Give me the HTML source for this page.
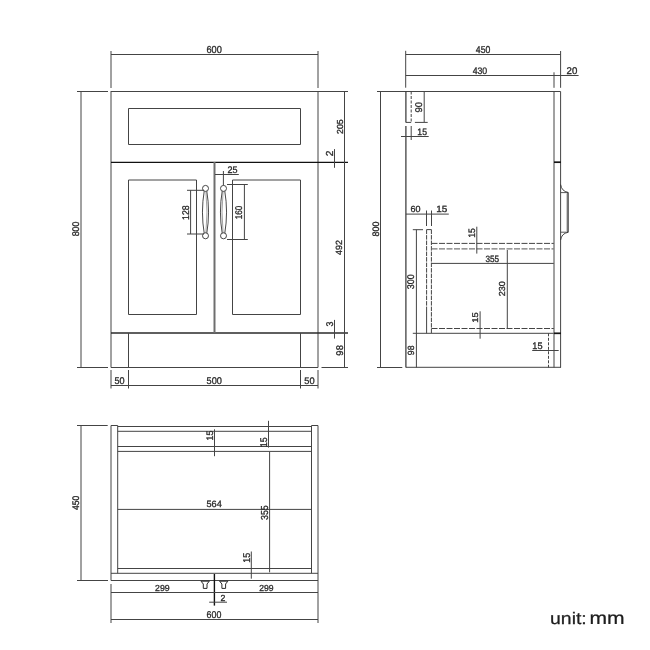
<!DOCTYPE html>
<html><head><meta charset="utf-8"><style>
html,body{margin:0;padding:0;background:#fff;}
body{width:650px;height:650px;overflow:hidden;position:relative;}
svg{position:absolute;left:0;top:0;will-change:transform;text-rendering:geometricPrecision;font-family:"Liberation Sans",sans-serif;}
</style></head><body>
<svg width="650" height="650" viewBox="0 0 650 650">
<line x1="111" y1="51" x2="111" y2="88" stroke="#444" stroke-width="1"/>
<line x1="318" y1="51" x2="318" y2="88" stroke="#444" stroke-width="1"/>
<line x1="111" y1="54.5" x2="318" y2="54.5" stroke="#444" stroke-width="1"/>
<line x1="77" y1="91.5" x2="108" y2="91.5" stroke="#444" stroke-width="1"/>
<line x1="77" y1="367.5" x2="108" y2="367.5" stroke="#444" stroke-width="1"/>
<line x1="81" y1="92" x2="81" y2="367" stroke="#444" stroke-width="1"/>
<line x1="111" y1="91.5" x2="348" y2="91.5" stroke="#444" stroke-width="1"/>
<line x1="111" y1="91" x2="111" y2="367.5" stroke="#444" stroke-width="1"/>
<line x1="318" y1="91" x2="318" y2="367.5" stroke="#444" stroke-width="1"/>
<line x1="111" y1="367.5" x2="318" y2="367.5" stroke="#444" stroke-width="1"/>
<line x1="321.5" y1="367.5" x2="348" y2="367.5" stroke="#444" stroke-width="1"/>
<path d="M128.5,108.5 H300.5 V144.5 H128.5 Z" fill="none" stroke="#444" stroke-width="1"/>
<line x1="111" y1="162.4" x2="348" y2="162.4" stroke="#111" stroke-width="1.4"/>
<line x1="111" y1="333" x2="348" y2="333" stroke="#2a2a2a" stroke-width="1.7"/>
<line x1="214.5" y1="162" x2="214.5" y2="333" stroke="#6e6e6e" stroke-width="2"/>
<path d="M128.5,314.5 V180 H196.5 V314.5 Z" fill="none" stroke="#444" stroke-width="1"/>
<path d="M232.5,314.5 V180 H300.5 V314.5 Z" fill="none" stroke="#444" stroke-width="1"/>
<line x1="128.5" y1="333" x2="128.5" y2="367.5" stroke="#444" stroke-width="1"/>
<line x1="300.5" y1="333" x2="300.5" y2="367.5" stroke="#444" stroke-width="1"/>
<line x1="344.5" y1="91.5" x2="344.5" y2="367.5" stroke="#444" stroke-width="1"/>
<line x1="334.5" y1="149.1" x2="334.5" y2="167.8" stroke="#444" stroke-width="1"/>
<line x1="334.5" y1="319.9" x2="334.5" y2="338.6" stroke="#444" stroke-width="1"/>
<line x1="111" y1="370" x2="111" y2="388.5" stroke="#444" stroke-width="1"/>
<line x1="128.5" y1="370" x2="128.5" y2="388.5" stroke="#444" stroke-width="1"/>
<line x1="300.5" y1="370" x2="300.5" y2="388.5" stroke="#444" stroke-width="1"/>
<line x1="318" y1="370" x2="318" y2="388.5" stroke="#444" stroke-width="1"/>
<line x1="111" y1="385.5" x2="318" y2="385.5" stroke="#444" stroke-width="1"/>
<path d="M204.3,190.5 Q200.6,212 204.3,234 M206.7,190.5 Q210.4,212 206.7,234" fill="none" stroke="#333" stroke-width="0.9"/>
<path d="M205.9,191 Q208.1,212 205.9,233" fill="none" stroke="#666" stroke-width="0.6"/>
<circle cx="205.5" cy="188.4" r="3" fill="#fff" stroke="#333" stroke-width="0.9"/>
<circle cx="205.5" cy="235.8" r="3" fill="#fff" stroke="#333" stroke-width="0.9"/>
<path d="M222.3,190.5 Q218.6,212 222.3,234 M224.7,190.5 Q228.4,212 224.7,234" fill="none" stroke="#333" stroke-width="0.9"/>
<path d="M223.1,191 Q220.9,212 223.1,233" fill="none" stroke="#666" stroke-width="0.6"/>
<circle cx="223.5" cy="188.4" r="3" fill="#fff" stroke="#333" stroke-width="0.9"/>
<circle cx="223.5" cy="235.8" r="3" fill="#fff" stroke="#333" stroke-width="0.9"/>
<line x1="187" y1="190.3" x2="204" y2="190.3" stroke="#444" stroke-width="1"/>
<line x1="187" y1="234" x2="204" y2="234" stroke="#444" stroke-width="1"/>
<line x1="190.6" y1="190.3" x2="190.6" y2="234" stroke="#444" stroke-width="1"/>
<line x1="223.4" y1="171" x2="223.4" y2="185.5" stroke="#444" stroke-width="1"/>
<line x1="215" y1="174.5" x2="238.8" y2="174.5" stroke="#444" stroke-width="1"/>
<line x1="227" y1="184.5" x2="247.8" y2="184.5" stroke="#444" stroke-width="1"/>
<line x1="227" y1="239.5" x2="247.8" y2="239.5" stroke="#444" stroke-width="1"/>
<line x1="244.4" y1="184.5" x2="244.4" y2="239.5" stroke="#444" stroke-width="1"/>
<line x1="405.7" y1="50.8" x2="405.7" y2="87.7" stroke="#444" stroke-width="1"/>
<line x1="560.6" y1="51" x2="560.6" y2="87.8" stroke="#444" stroke-width="1"/>
<line x1="405.7" y1="54.5" x2="560.6" y2="54.5" stroke="#444" stroke-width="1"/>
<line x1="405.7" y1="75.5" x2="578.6" y2="75.5" stroke="#444" stroke-width="1"/>
<line x1="554" y1="72.3" x2="554" y2="87.8" stroke="#444" stroke-width="1"/>
<line x1="377" y1="91.5" x2="560.6" y2="91.5" stroke="#444" stroke-width="1"/>
<line x1="380.5" y1="91.5" x2="380.5" y2="367.5" stroke="#444" stroke-width="1"/>
<line x1="377" y1="367.5" x2="402.3" y2="367.5" stroke="#444" stroke-width="1"/>
<line x1="405.9" y1="91.5" x2="405.9" y2="122.4" stroke="#333" stroke-width="1.2"/>
<line x1="405.9" y1="126" x2="405.9" y2="367.5" stroke="#333" stroke-width="1.2"/>
<line x1="411.2" y1="91.5" x2="411.2" y2="122.4" stroke="#444" stroke-width="1" stroke-dasharray="3 1.5"/>
<line x1="405.9" y1="122.4" x2="411.2" y2="122.4" stroke="#444" stroke-width="1"/>
<line x1="411.2" y1="126" x2="411.2" y2="140" stroke="#444" stroke-width="1"/>
<line x1="424.2" y1="92" x2="424.2" y2="122" stroke="#444" stroke-width="1"/>
<line x1="414.9" y1="122.4" x2="427.7" y2="122.4" stroke="#444" stroke-width="1"/>
<line x1="401" y1="136.5" x2="428.7" y2="136.5" stroke="#444" stroke-width="1"/>
<line x1="554" y1="91.5" x2="554" y2="367.5" stroke="#444" stroke-width="1"/>
<line x1="560.6" y1="91.5" x2="560.6" y2="367.5" stroke="#444" stroke-width="1"/>
<line x1="554" y1="162.2" x2="561" y2="162.2" stroke="#151515" stroke-width="1.7"/>
<path d="M560.6,184.5 Q561.6,191.2 568,192.4 M560.6,240 Q561.6,233.5 568,232.3" fill="none" stroke="#333" stroke-width="0.9"/>
<path d="M560.6,192.6 H568 M560.6,232.2 H568" fill="none" stroke="#444" stroke-width="0.9"/>
<path d="M568,192.2 V232.5" fill="none" stroke="#333" stroke-width="1.4"/>
<path d="M566.7,193.5 V231.2" fill="none" stroke="#999" stroke-width="0.6"/>
<line x1="405.9" y1="214.1" x2="448.8" y2="214.1" stroke="#444" stroke-width="1"/>
<line x1="426.5" y1="210.5" x2="426.5" y2="226" stroke="#444" stroke-width="1"/>
<line x1="431.5" y1="210.5" x2="431.5" y2="226" stroke="#444" stroke-width="1"/>
<line x1="412.8" y1="229.7" x2="423" y2="229.7" stroke="#444" stroke-width="1"/>
<line x1="416.4" y1="229.7" x2="416.4" y2="367.5" stroke="#444" stroke-width="1"/>
<line x1="426.6" y1="229.6" x2="431.4" y2="229.6" stroke="#444" stroke-width="1"/>
<line x1="426.6" y1="229.6" x2="426.6" y2="309" stroke="#444" stroke-width="1" stroke-dasharray="4.5 1"/>
<line x1="426.6" y1="309" x2="426.6" y2="333.3" stroke="#444" stroke-width="1"/>
<line x1="431.4" y1="229.6" x2="431.4" y2="333.3" stroke="#444" stroke-width="1" stroke-dasharray="4.5 1"/>
<line x1="431.5" y1="243.4" x2="553.8" y2="243.4" stroke="#444" stroke-width="1" stroke-dasharray="6 1.5"/>
<line x1="431.5" y1="248.9" x2="553.8" y2="248.9" stroke="#777" stroke-width="1.2" stroke-dasharray="6 1.5"/>
<line x1="431.5" y1="263.4" x2="553.8" y2="263.4" stroke="#444" stroke-width="1"/>
<line x1="476.8" y1="226.7" x2="476.8" y2="253.6" stroke="#444" stroke-width="1"/>
<line x1="507.3" y1="250" x2="507.3" y2="328.4" stroke="#444" stroke-width="1"/>
<line x1="412.8" y1="333.3" x2="553.8" y2="333.3" stroke="#444" stroke-width="1"/>
<line x1="431.5" y1="328.5" x2="553.8" y2="328.5" stroke="#444" stroke-width="1" stroke-dasharray="6 1.5"/>
<line x1="480.1" y1="311.3" x2="480.1" y2="338.7" stroke="#444" stroke-width="1"/>
<line x1="554" y1="333.3" x2="561" y2="333.3" stroke="#151515" stroke-width="1.7"/>
<line x1="548.5" y1="333.3" x2="548.5" y2="367.5" stroke="#444" stroke-width="1" stroke-dasharray="3 1.5"/>
<line x1="532.2" y1="350.5" x2="558.7" y2="350.5" stroke="#444" stroke-width="1"/>
<line x1="405.9" y1="367.3" x2="561" y2="367.3" stroke="#444" stroke-width="1"/>
<line x1="77" y1="425.5" x2="107.7" y2="425.5" stroke="#444" stroke-width="1"/>
<line x1="77" y1="580.5" x2="108" y2="580.5" stroke="#444" stroke-width="1"/>
<line x1="81" y1="425.5" x2="81" y2="580.5" stroke="#444" stroke-width="1"/>
<line x1="111" y1="425.5" x2="111" y2="580.5" stroke="#444" stroke-width="1"/>
<line x1="117.7" y1="425.5" x2="117.7" y2="573.3" stroke="#444" stroke-width="1"/>
<line x1="111" y1="425.5" x2="117.7" y2="425.5" stroke="#444" stroke-width="1"/>
<line x1="318" y1="425.5" x2="318" y2="623" stroke="#444" stroke-width="1"/>
<line x1="311.5" y1="425.5" x2="311.5" y2="573.3" stroke="#444" stroke-width="1"/>
<line x1="311.5" y1="425.5" x2="318" y2="425.5" stroke="#444" stroke-width="1"/>
<line x1="117.7" y1="426.5" x2="311.5" y2="426.5" stroke="#444" stroke-width="1"/>
<line x1="117.7" y1="431.3" x2="311.5" y2="431.3" stroke="#444" stroke-width="1"/>
<line x1="117.7" y1="446.5" x2="311.5" y2="446.5" stroke="#444" stroke-width="1"/>
<line x1="117.7" y1="451.4" x2="311.5" y2="451.4" stroke="#444" stroke-width="1"/>
<line x1="117.7" y1="509.4" x2="311.5" y2="509.4" stroke="#444" stroke-width="1"/>
<line x1="117.7" y1="568.5" x2="311.5" y2="568.5" stroke="#444" stroke-width="1"/>
<line x1="111" y1="573.3" x2="318" y2="573.3" stroke="#444" stroke-width="1"/>
<line x1="111" y1="580.5" x2="318" y2="580.5" stroke="#444" stroke-width="1"/>
<line x1="214.5" y1="429.3" x2="214.5" y2="456.2" stroke="#444" stroke-width="1"/>
<line x1="268.5" y1="420.8" x2="268.5" y2="447.6" stroke="#444" stroke-width="1"/>
<line x1="269.6" y1="451.7" x2="269.6" y2="572.3" stroke="#444" stroke-width="1"/>
<line x1="251.3" y1="551.5" x2="251.3" y2="578.7" stroke="#444" stroke-width="1"/>
<line x1="214.4" y1="574" x2="214.4" y2="605.6" stroke="#111" stroke-width="1.4"/>
<path d="M201,581.2 H209.3 L207,584 V588.4 H203.3 V584 Z" fill="none" stroke="#2a2a2a" stroke-width="1"/>
<path d="M219.6,581.2 H227.9 L225.6,584 V588.4 H221.9 V584 Z" fill="none" stroke="#2a2a2a" stroke-width="1"/>
<line x1="111" y1="592.5" x2="318" y2="592.5" stroke="#444" stroke-width="1"/>
<line x1="111" y1="584" x2="111" y2="623" stroke="#444" stroke-width="1"/>
<line x1="209.2" y1="602.2" x2="227" y2="602.2" stroke="#444" stroke-width="1"/>
<line x1="111" y1="619.5" x2="318" y2="619.5" stroke="#444" stroke-width="1"/>
<text transform="matrix(0.92405,0,0,1.01408,206.438,52.599)" font-size="10" fill="#2a2a2a" stroke="#2a2a2a" stroke-width="0.3156">600</text>
<text transform="matrix(0,-0.88328,0.97183,0,78.803,236.297)" font-size="10" fill="#2a2a2a" stroke="#2a2a2a" stroke-width="0.3293">800</text>
<text transform="matrix(0,-0.87619,0.87324,0,342.513,133.938)" font-size="10" fill="#2a2a2a" stroke="#2a2a2a" stroke-width="0.3665">205</text>
<text transform="matrix(0,-1.01099,1.01429,0,333.000,156.205)" font-size="10" fill="#2a2a2a" stroke="#2a2a2a" stroke-width="0.3155">2</text>
<text transform="matrix(0,-0.89655,0.90141,0,342.410,254.879)" font-size="10" fill="#2a2a2a" stroke="#2a2a2a" stroke-width="0.3550">492</text>
<text transform="matrix(0,-0.88421,0.97183,0,332.603,326.454)" font-size="10" fill="#2a2a2a" stroke="#2a2a2a" stroke-width="0.3293">3</text>
<text transform="matrix(0,-0.94634,0.97183,0,342.703,355.626)" font-size="10" fill="#2a2a2a" stroke="#2a2a2a" stroke-width="0.3293">98</text>
<text transform="matrix(0.90821,0,0,0.97183,114.537,383.703)" font-size="10" fill="#2a2a2a" stroke="#2a2a2a" stroke-width="0.3293">50</text>
<text transform="matrix(0.91824,0,0,0.97183,206.533,383.703)" font-size="10" fill="#2a2a2a" stroke="#2a2a2a" stroke-width="0.3293">500</text>
<text transform="matrix(0.92754,0,0,0.95775,304.229,383.704)" font-size="10" fill="#2a2a2a" stroke="#2a2a2a" stroke-width="0.3341">50</text>
<text transform="matrix(0,-0.87097,0.97183,0,188.803,219.953)" font-size="10" fill="#2a2a2a" stroke="#2a2a2a" stroke-width="0.3293">128</text>
<text transform="matrix(0.90196,0,0,0.95775,227.449,172.804)" font-size="10" fill="#2a2a2a" stroke="#2a2a2a" stroke-width="0.3341">25</text>
<text transform="matrix(0,-0.81672,0.97183,0,241.903,219.313)" font-size="10" fill="#2a2a2a" stroke="#2a2a2a" stroke-width="0.3293">160</text>
<text transform="matrix(0.86957,0,0,1.00000,475.826,52.800)" font-size="10" fill="#2a2a2a" stroke="#2a2a2a" stroke-width="0.3200">450</text>
<text transform="matrix(0.87578,0,0,0.94366,472.625,73.706)" font-size="10" fill="#2a2a2a" stroke="#2a2a2a" stroke-width="0.3391">430</text>
<text transform="matrix(0.96585,0,0,0.97183,566.617,73.703)" font-size="10" fill="#2a2a2a" stroke="#2a2a2a" stroke-width="0.3293">20</text>
<text transform="matrix(0,-0.89590,0.94366,0,378.706,236.503)" font-size="10" fill="#2a2a2a" stroke="#2a2a2a" stroke-width="0.3391">800</text>
<text transform="matrix(0,-0.94175,0.97183,0,422.203,112.424)" font-size="10" fill="#2a2a2a" stroke="#2a2a2a" stroke-width="0.3293">90</text>
<text transform="matrix(0.86432,0,0,0.92857,417.352,134.707)" font-size="10" fill="#2a2a2a" stroke="#2a2a2a" stroke-width="0.3446">15</text>
<text transform="matrix(0.89756,0,0,0.88732,410.551,212.111)" font-size="10" fill="#2a2a2a" stroke="#2a2a2a" stroke-width="0.3606">60</text>
<text transform="matrix(0.99497,0,0,0.90000,436.154,212.110)" font-size="10" fill="#2a2a2a" stroke="#2a2a2a" stroke-width="0.3556">15</text>
<text transform="matrix(0,-0.89308,0.97183,0,413.903,289.257)" font-size="10" fill="#2a2a2a" stroke="#2a2a2a" stroke-width="0.3293">300</text>
<text transform="matrix(0,-0.86829,0.90141,0,413.910,355.191)" font-size="10" fill="#2a2a2a" stroke="#2a2a2a" stroke-width="0.3550">98</text>
<text transform="matrix(0,-0.85427,0.94286,0,474.906,237.841)" font-size="10" fill="#2a2a2a" stroke="#2a2a2a" stroke-width="0.3394">15</text>
<text transform="matrix(0.82019,0,0,0.91549,485.472,261.808)" font-size="10" fill="#2a2a2a" stroke="#2a2a2a" stroke-width="0.3495">355</text>
<text transform="matrix(0,-0.90506,0.87324,0,504.913,296.253)" font-size="10" fill="#2a2a2a" stroke="#2a2a2a" stroke-width="0.3665">230</text>
<text transform="matrix(0,-0.94472,0.82857,0,477.817,322.809)" font-size="10" fill="#2a2a2a" stroke="#2a2a2a" stroke-width="0.3862">15</text>
<text transform="matrix(0.91457,0,0,0.94286,532.314,348.606)" font-size="10" fill="#2a2a2a" stroke="#2a2a2a" stroke-width="0.3394">15</text>
<text transform="matrix(0,-0.85714,0.95775,0,78.704,509.971)" font-size="10" fill="#2a2a2a" stroke="#2a2a2a" stroke-width="0.3341">450</text>
<text transform="matrix(0,-0.89447,0.94286,0,212.906,440.471)" font-size="10" fill="#2a2a2a" stroke="#2a2a2a" stroke-width="0.3394">15</text>
<text transform="matrix(0,-0.88442,0.97143,0,266.703,447.263)" font-size="10" fill="#2a2a2a" stroke="#2a2a2a" stroke-width="0.3294">15</text>
<text transform="matrix(0.91536,0,0,0.91549,206.534,507.008)" font-size="10" fill="#2a2a2a" stroke="#2a2a2a" stroke-width="0.3495">564</text>
<text transform="matrix(0,-0.88328,1.01408,0,267.699,519.953)" font-size="10" fill="#2a2a2a" stroke="#2a2a2a" stroke-width="0.3156">355</text>
<text transform="matrix(0,-0.89447,0.98571,0,249.801,562.771)" font-size="10" fill="#2a2a2a" stroke="#2a2a2a" stroke-width="0.3246">15</text>
<text transform="matrix(0.87261,0,0,0.87324,155.064,590.613)" font-size="10" fill="#2a2a2a" stroke="#2a2a2a" stroke-width="0.3665">299</text>
<text transform="matrix(0.85987,0,0,0.87324,259.170,590.613)" font-size="10" fill="#2a2a2a" stroke="#2a2a2a" stroke-width="0.3665">299</text>
<text transform="matrix(0.87912,0,0,0.88571,220.560,600.500)" font-size="10" fill="#2a2a2a" stroke="#2a2a2a" stroke-width="0.3613">2</text>
<text transform="matrix(0.88608,0,0,0.98592,206.557,617.901)" font-size="10" fill="#2a2a2a" stroke="#2a2a2a" stroke-width="0.3246">600</text>
<text transform="matrix(1.94220,0,0,1.67347,550.038,623.933)" font-size="10" fill="#1e1e1e" stroke="#1e1e1e" stroke-width="0.1494">unit:</text>
<text transform="matrix(2.11039,0,0,1.77778,589.428,624.100)" font-size="10" fill="#1e1e1e" stroke="#1e1e1e" stroke-width="0.1406">mm</text>
</svg>
</body></html>
